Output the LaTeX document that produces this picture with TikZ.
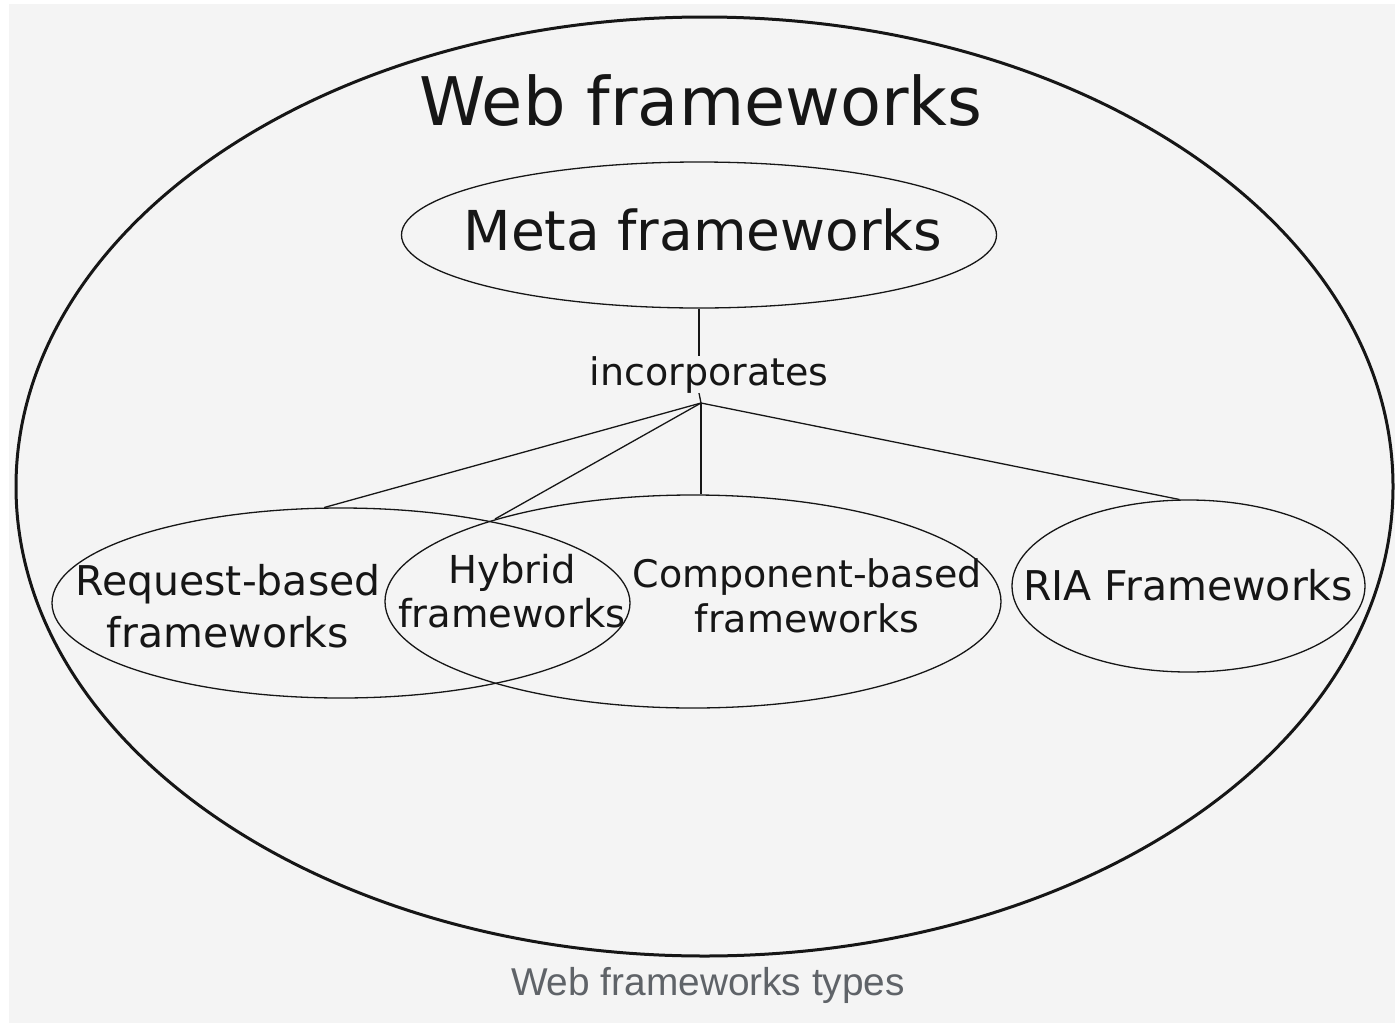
\documentclass[tikz,border=0pt]{standalone}
\usepackage{fontspec}
\setmainfont{DejaVu Sans}
\newfontfamily\capfont{Liberation Sans}
\usetikzlibrary{shapes.geometric}
\definecolor{bggray}{HTML}{F4F4F4}
\definecolor{inkc}{HTML}{161616}
\definecolor{capc}{HTML}{5F6368}
\begin{document}
\begin{tikzpicture}[x=1pt,y=-1pt,
  ell/.style={ellipse, draw=inkc, line width=1.3pt, inner sep=0pt},
  con/.style={draw=inkc, line width=1.3pt},
  lbl/.style={anchor=base, align=center, text=inkc, inner sep=0pt}]
\useasboundingbox (0,0) rectangle (1395,1023);
\fill[white] (0,0) rectangle (1395,1023);
\fill[bggray] (9,4) rectangle (1395,1023);
% outer ellipse
\node[ell, line width=3pt, minimum width=1377pt, minimum height=939pt] (outer) at (704.5,486.5) {};
\node[lbl, font=\fontsize{67}{80}\selectfont] (title) at (701,125) {Web frameworks};
% meta
\node[ell, minimum width=595pt, minimum height=146pt] (meta) at (699,235) {};
\node[lbl, font=\fontsize{55}{66}\selectfont] (metat) at (703,250) {Meta frameworks};
% incorporates
\node[lbl, font=\fontsize{38}{45}\selectfont] (inc) at (709,385) {incorporates};
\coordinate (hub) at (701,403);
% frameworks ellipses
\node[ell, minimum width=578pt, minimum height=190pt] (req) at (341,603) {};
\node[ell, minimum width=616pt, minimum height=213pt] (comp) at (693,601.5) {};
\node[ell, minimum width=353pt, minimum height=172pt] (ria) at (1188.5,586) {};
\coordinate (hyb) at (495,519);
% texts (base anchor = baseline of the last line)
\node[lbl, font=\fontsize{41}{52}\selectfont] (reqt) at (228,647) {Request-based\\frameworks};
\node[lbl, font=\fontsize{38.5}{44}\selectfont] (hybt) at (512,627) {Hybrid\\frameworks};
\node[lbl, font=\fontsize{38}{45}\selectfont] (compt) at (807,632) {Component-based\\frameworks};
\node[lbl, font=\fontsize{41}{50}\selectfont] (riat) at (1188,600) {RIA Frameworks};
% connectors
\draw[con] (meta.south) -- (meta.south |- inc.north);
\draw[con] (meta.south |- inc.south) -- (hub);
\draw[con] (hub) -- (req.100);
\draw[con] (hub) -- (hyb);
\draw[con] (hub) -- (hub |- comp.north);
\draw[con] (hub) -- (ria.96);
% caption
\node[anchor=base, inner sep=0pt, text=capc, font=\capfont\fontsize{38.8}{46}\selectfont] (cap) at (708,995) {Web frameworks types};
\end{tikzpicture}
\end{document}
